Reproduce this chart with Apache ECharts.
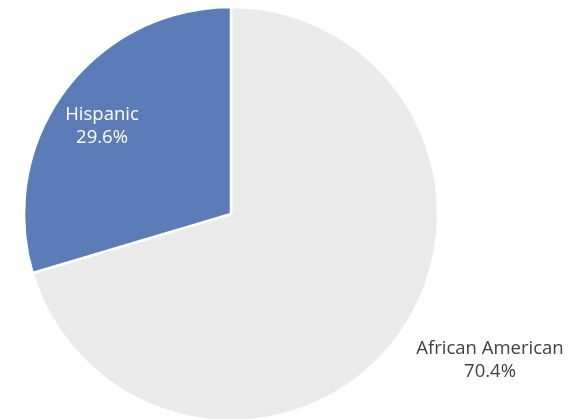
<!DOCTYPE html>
<html>
<head>
<meta charset="utf-8">
<style>
  html, body { margin: 0; padding: 0; background: #ffffff; }
  #chart { width: 583px; height: 419px; }
</style>
<script src="https://cdn.jsdelivr.net/npm/echarts@6/dist/echarts.min.js"></script>
</head>
<body>
<div id="chart"></div>
<script>
// Share of population by group (percent)
const categories = ['African American', 'Hispanic'];
const shares = [70.4, 29.6];

const sliceColors = ['#eaeaea', '#5b7cb7'];
const labelColors = ['#404040', '#ffffff'];
// label anchor points (centre of each text block)
const labelAnchors = [[490, 360], [102, 126]];

const chart = echarts.init(document.getElementById('chart'), null, { renderer: 'canvas' });

chart.setOption({
  animation: false,
  series: [{
    type: 'pie',
    center: [231, 214],
    radius: 207,
    startAngle: 90,
    clockwise: true,
    itemStyle: { borderColor: '#ffffff', borderWidth: 2.5 },
    label: {
      show: true,
      position: 'inside',
      fontFamily: '"Open Sans", "Noto Sans", sans-serif',
      fontSize: 18.5,
      lineHeight: 23,
      align: 'center',
      formatter: p => p.name + '\n' + p.value.toFixed(1) + '%'
    },
    labelLine: { show: false },
    labelLayout: p => ({
      x: labelAnchors[p.dataIndex][0],
      y: labelAnchors[p.dataIndex][1],
      align: 'center',
      verticalAlign: 'middle'
    }),
    emphasis: { disabled: true },
    data: categories.map((name, i) => ({
      name,
      value: shares[i],
      itemStyle: { color: sliceColors[i] },
      label: { color: labelColors[i] }
    }))
  }]
});
</script>
</body>
</html>
